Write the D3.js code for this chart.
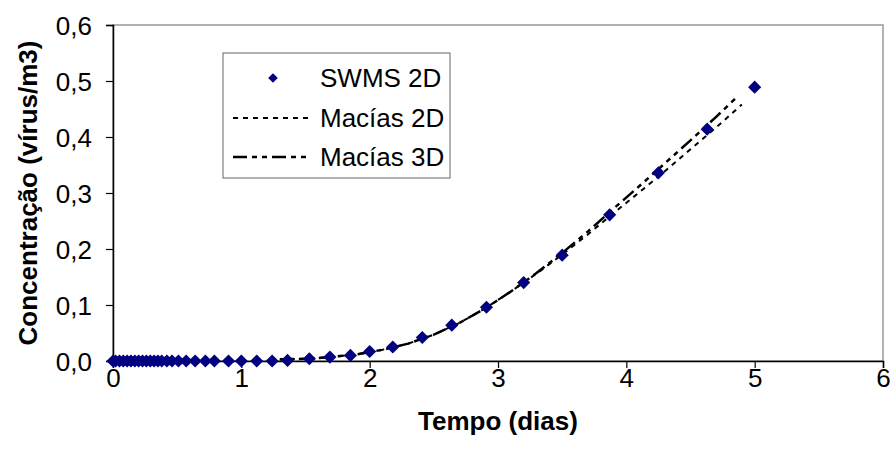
<!DOCTYPE html>
<html>
<head>
<meta charset="utf-8">
<script src="https://cdn.jsdelivr.net/npm/d3@7"></script>
<style>
  html, body { margin: 0; padding: 0; background: #fff; }
  svg { display: block; font-family: "Liberation Sans", Arial, sans-serif; }
</style>
</head>
<body>
<svg id="chart" width="892" height="464"></svg>
<script>
// SWMS 2D simulated concentrations (days, virus/m3)
const swmsTime = [0, 0.02, 0.05, 0.08, 0.11, 0.14, 0.17, 0.2, 0.23, 0.26, 0.29, 0.32,
  0.35, 0.38, 0.42, 0.46, 0.51, 0.57, 0.64, 0.72, 0.79, 0.9, 1.0, 1.12, 1.24, 1.36,
  1.53, 1.69, 1.85, 2.0, 2.18, 2.41, 2.64, 2.91, 3.2, 3.5, 3.87, 4.25, 4.63, 5.0];
const swmsConc = [0, 0, 0, 0, 0, 0, 0, 0, 0, 0, 0, 0,
  0, 0, 0, 0, 0, 0, 0, 0, 0, 0, 0, 0, 0, 0.001,
  0.004, 0.007, 0.01, 0.017, 0.025, 0.042, 0.064, 0.096, 0.14, 0.189, 0.261, 0.336, 0.414, 0.489];

// Macías analytical solution, 2D
const macias2dTime = [1.3, 1.5, 1.7, 1.9, 2.1, 2.3, 2.5, 2.7, 2.9, 3.1, 3.3, 3.5, 3.7, 3.9, 4.1, 4.3, 4.5, 4.7, 4.9];
const macias2dConc = [0.003, 0.004, 0.007, 0.012, 0.02, 0.031, 0.047, 0.068, 0.094, 0.124, 0.156, 0.19, 0.226, 0.264, 0.301, 0.339, 0.378, 0.417, 0.458];

// Macías analytical solution, 3D
const macias3dTime = [1.3, 1.5, 1.7, 1.9, 2.1, 2.3, 2.5, 2.7, 2.9, 3.1, 3.3, 3.5, 3.7, 3.9, 4.1, 4.3, 4.5, 4.7, 4.86];
const macias3dConc = [0.003, 0.004, 0.007, 0.012, 0.02, 0.031, 0.047, 0.068, 0.094, 0.124, 0.157, 0.193, 0.231, 0.272, 0.312, 0.353, 0.394, 0.436, 0.471];

const xTicks = [0, 1, 2, 3, 4, 5, 6];
const yTicks = [0, 0.1, 0.2, 0.3, 0.4, 0.5, 0.6];
const legendLabels = ["SWMS 2D", "Macías 2D", "Macías 3D"];

const svg = d3.select("#chart");
const plot = { left: 113, right: 883, top: 25, bottom: 361 };
const FONT = 26;

const x = d3.scaleLinear().domain([0, 6]).range([plot.left, plot.right]);
const y = d3.scaleLinear().domain([0, 0.6]).range([plot.bottom, plot.top]);
const fmtY = v => d3.format(".1f")(v).replace(".", ",");

// plot frame (top/right in grey)
svg.append("rect")
  .attr("x", plot.left).attr("y", plot.top)
  .attr("width", plot.right - plot.left).attr("height", plot.bottom - plot.top)
  .attr("fill", "#fff").attr("stroke", "#999").attr("stroke-width", 1.5);

// axes
const xAxis = svg.append("g")
  .attr("transform", `translate(0,${plot.bottom})`)
  .call(d3.axisBottom(x).tickValues(xTicks).tickSize(7).tickPadding(1).tickFormat(d3.format("d")));
const yAxis = svg.append("g")
  .attr("transform", `translate(${plot.left},0)`)
  .call(d3.axisLeft(y).tickValues(yTicks).tickSize(7).tickPadding(14).tickFormat(fmtY));

[xAxis, yAxis].forEach(g => {
  g.select(".domain").attr("stroke", "#000").attr("stroke-width", 1.5);
  g.selectAll(".tick line").attr("stroke", "#000").attr("stroke-width", 1.2);
  g.selectAll(".tick text").attr("fill", "#000")
    .style("font-size", FONT + "px").style("font-family", "Liberation Sans, Arial, sans-serif");
});
yAxis.selectAll(".tick text").attr("dy", "0.36em");

// series lines
const line = d3.line().x(d => x(d[0])).y(d => y(d[1]));
const m2d = macias2dTime.map((t, i) => [t, macias2dConc[i]]);
const m3d = macias3dTime.map((t, i) => [t, macias3dConc[i]]);
const DASH2D = "5,5";
const DASH3D = "14,5,5,5,5,5";

svg.append("path").datum(m2d).attr("d", line)
  .attr("fill", "none").attr("stroke", "#000").attr("stroke-width", 2)
  .attr("stroke-dasharray", DASH2D);
svg.append("path").datum(m3d).attr("d", line)
  .attr("fill", "none").attr("stroke", "#000").attr("stroke-width", 2.5)
  .attr("stroke-dasharray", DASH3D);

// SWMS markers
const diamond = d3.symbol().type(d3.symbolDiamond2).size(110);
svg.append("g").selectAll("path")
  .data(swmsTime.map((t, i) => [t, swmsConc[i]]))
  .join("path")
  .attr("d", diamond)
  .attr("transform", d => `translate(${x(d[0])},${y(d[1])})`)
  .attr("fill", "#000080");

// axis titles
svg.append("text")
  .attr("x", (plot.left + plot.right) / 2).attr("y", 430)
  .attr("text-anchor", "middle")
  .style("font-size", FONT + "px").style("font-weight", "bold")
  .text("Tempo (dias)");
svg.append("text")
  .attr("transform", `translate(37,${(plot.top + plot.bottom) / 2}) rotate(-90)`)
  .attr("text-anchor", "middle")
  .style("font-size", FONT + "px").style("font-weight", "bold")
  .text("Concentração (vírus/m3)");

// legend
const lg = svg.append("g");
lg.append("rect").attr("x", 223).attr("y", 53).attr("width", 227).attr("height", 125)
  .attr("fill", "#fff").attr("stroke", "#666").attr("stroke-width", 1);
const rowsY = [78, 118, 157];
lg.append("path").attr("d", d3.symbol().type(d3.symbolDiamond2).size(60))
  .attr("transform", `translate(273,${rowsY[0]})`).attr("fill", "#000080");
lg.append("line").attr("x1", 233).attr("x2", 308).attr("y1", rowsY[1]).attr("y2", rowsY[1])
  .attr("stroke", "#000").attr("stroke-width", 2).attr("stroke-dasharray", DASH2D);
lg.append("line").attr("x1", 233).attr("x2", 308).attr("y1", rowsY[2]).attr("y2", rowsY[2])
  .attr("stroke", "#000").attr("stroke-width", 2.5).attr("stroke-dasharray", DASH3D);
lg.selectAll("text.lbl").data(legendLabels).join("text")
  .attr("class", "lbl")
  .attr("x", 320).attr("y", (d, i) => rowsY[i]).attr("dy", "0.36em")
  .style("font-size", FONT + "px")
  .text(d => d);
</script>
</body>
</html>
